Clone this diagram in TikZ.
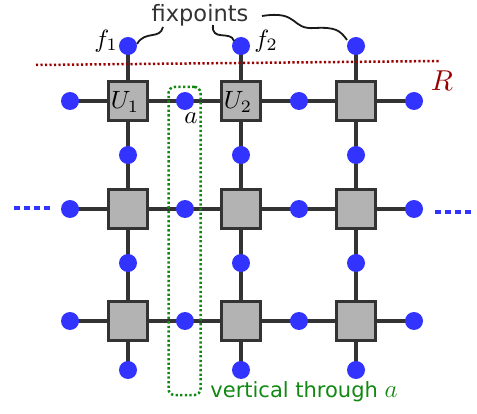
\documentclass[tikz,border=0pt]{standalone}
\usepackage{fontspec}
\setsansfont{DejaVu Sans}
\begin{document}
\begin{tikzpicture}[x=1pt,y=-1pt,
  blk/.style={draw=dk, line width=3pt, fill=bx, minimum size=39pt, inner sep=0pt},
  dotn/.style={circle, fill=bl, minimum size=18pt, inner sep=0pt},
  wire/.style={draw=dk, line width=4pt},
  sq/.style={draw=black!90, line width=1.8pt},
  lbl/.style={font=\normalsize, scale=2.5, inner sep=0pt}]
\definecolor{dk}{HTML}{333333}
\definecolor{bx}{HTML}{B3B3B3}
\definecolor{bl}{HTML}{3333FF}
\definecolor{rd}{HTML}{990000}
\definecolor{gr}{HTML}{118811}
\useasboundingbox (0,0) rectangle (477,414);
% coordinates
\foreach \r/\y in {1/101,2/209,3/321}{
  \foreach \c/\x in {0/70,1/185,2/299,3/414}{
    \coordinate (h-\r-\c) at (\x,\y);}}
\foreach \c/\x in {1/128,2/241,3/356}{
  \foreach \r/\y in {0/46,1/155,2/263,3/370}{
    \coordinate (v-\c-\r) at (\x,\y);}}
% wires
\foreach \r in {1,2,3}{\draw[wire] (h-\r-0) -- (h-\r-3);}
\foreach \c in {1,2,3}{\draw[wire] (v-\c-0) -- (v-\c-3);}
% red line
\coordinate (rl) at (36,65);
\coordinate (rr) at (440,61);
\draw[rd, line width=2.5pt, dash pattern=on 2.2pt off 2.3pt] (rl) -- (rr);
\node[text=rd, lbl, scale=1.15] (R) at (442,81) {$R$};
% green box
\node[draw=gr, line width=2.5pt, dash pattern=on 2.3pt off 2.3pt, rounded corners=6pt,
  minimum width=32pt, minimum height=308pt, inner sep=0pt] (vert) at (184.5,241) {};
\node[text=gr, font=\sffamily\normalsize, scale=2.1, anchor=base west, inner sep=0pt] (vt) at (210,397) {vertical through {\large$a$}};
% boxes
\node[blk] (b11) at (128,101) {};
\node[lbl] at (125,102) {$U_1$};
\node[blk] (b12) at (241,101) {};
\node[lbl] at (238,102) {$U_2$};
\node[blk] (b13) at (356,101) {};
\foreach \r/\y in {2/209,3/321}{
  \foreach \c/\x in {1/128,2/241,3/356}{
    \node[blk] (b\r\c) at (\x,\y) {};}}
% dots
\foreach \r in {1,2,3}{\foreach \c in {0,1,2,3}{\node[dotn] (dh\r\c) at (h-\r-\c) {};}}
\foreach \c in {1,2,3}{\foreach \r in {0,1,2,3}{\node[dotn] (dv\c\r) at (v-\c-\r) {};}}
% blue dotted ends
\coordinate (l1) at (14,208); \coordinate (l2) at (50,208);
\coordinate (r1) at (435,212); \coordinate (r2) at (472,212);
\draw[bl, line width=3.5pt, dash pattern=on 6pt off 4pt] (l1) -- (l2);
\draw[bl, line width=3.5pt, dash pattern=on 6pt off 4pt] (r1) -- (r2);
% labels
\node[lbl] (f1) at (106,41) {$f_1$};
\node[lbl] (f2) at (266,41) {$f_2$};
\node[lbl] (al) at (191,118) {$a$};
\node[text=dk, font=\sffamily\normalsize, scale=2.25, anchor=base, inner sep=0pt] (fx) at (200,22) {fixpoints};
% squiggles
\coordinate (s1a) at (137,44); \coordinate (s1b) at (163,27);
\coordinate (s2a) at (213,25); \coordinate (s2b) at (234,41);
\coordinate (s3a) at (262,16); \coordinate (s3m) at (315,28); \coordinate (s3b) at (347,40);
\draw[sq] (s1a) .. controls (145,30) and (160,40) .. (s1b);
\draw[sq] (s2a) .. controls (211,42) and (231,30) .. (s2b);
\draw[sq] (s3a) .. controls (300,10) and (290,30) .. (s3m) .. controls (335,27) and (340,30) .. (s3b);
\end{tikzpicture}
\end{document}
